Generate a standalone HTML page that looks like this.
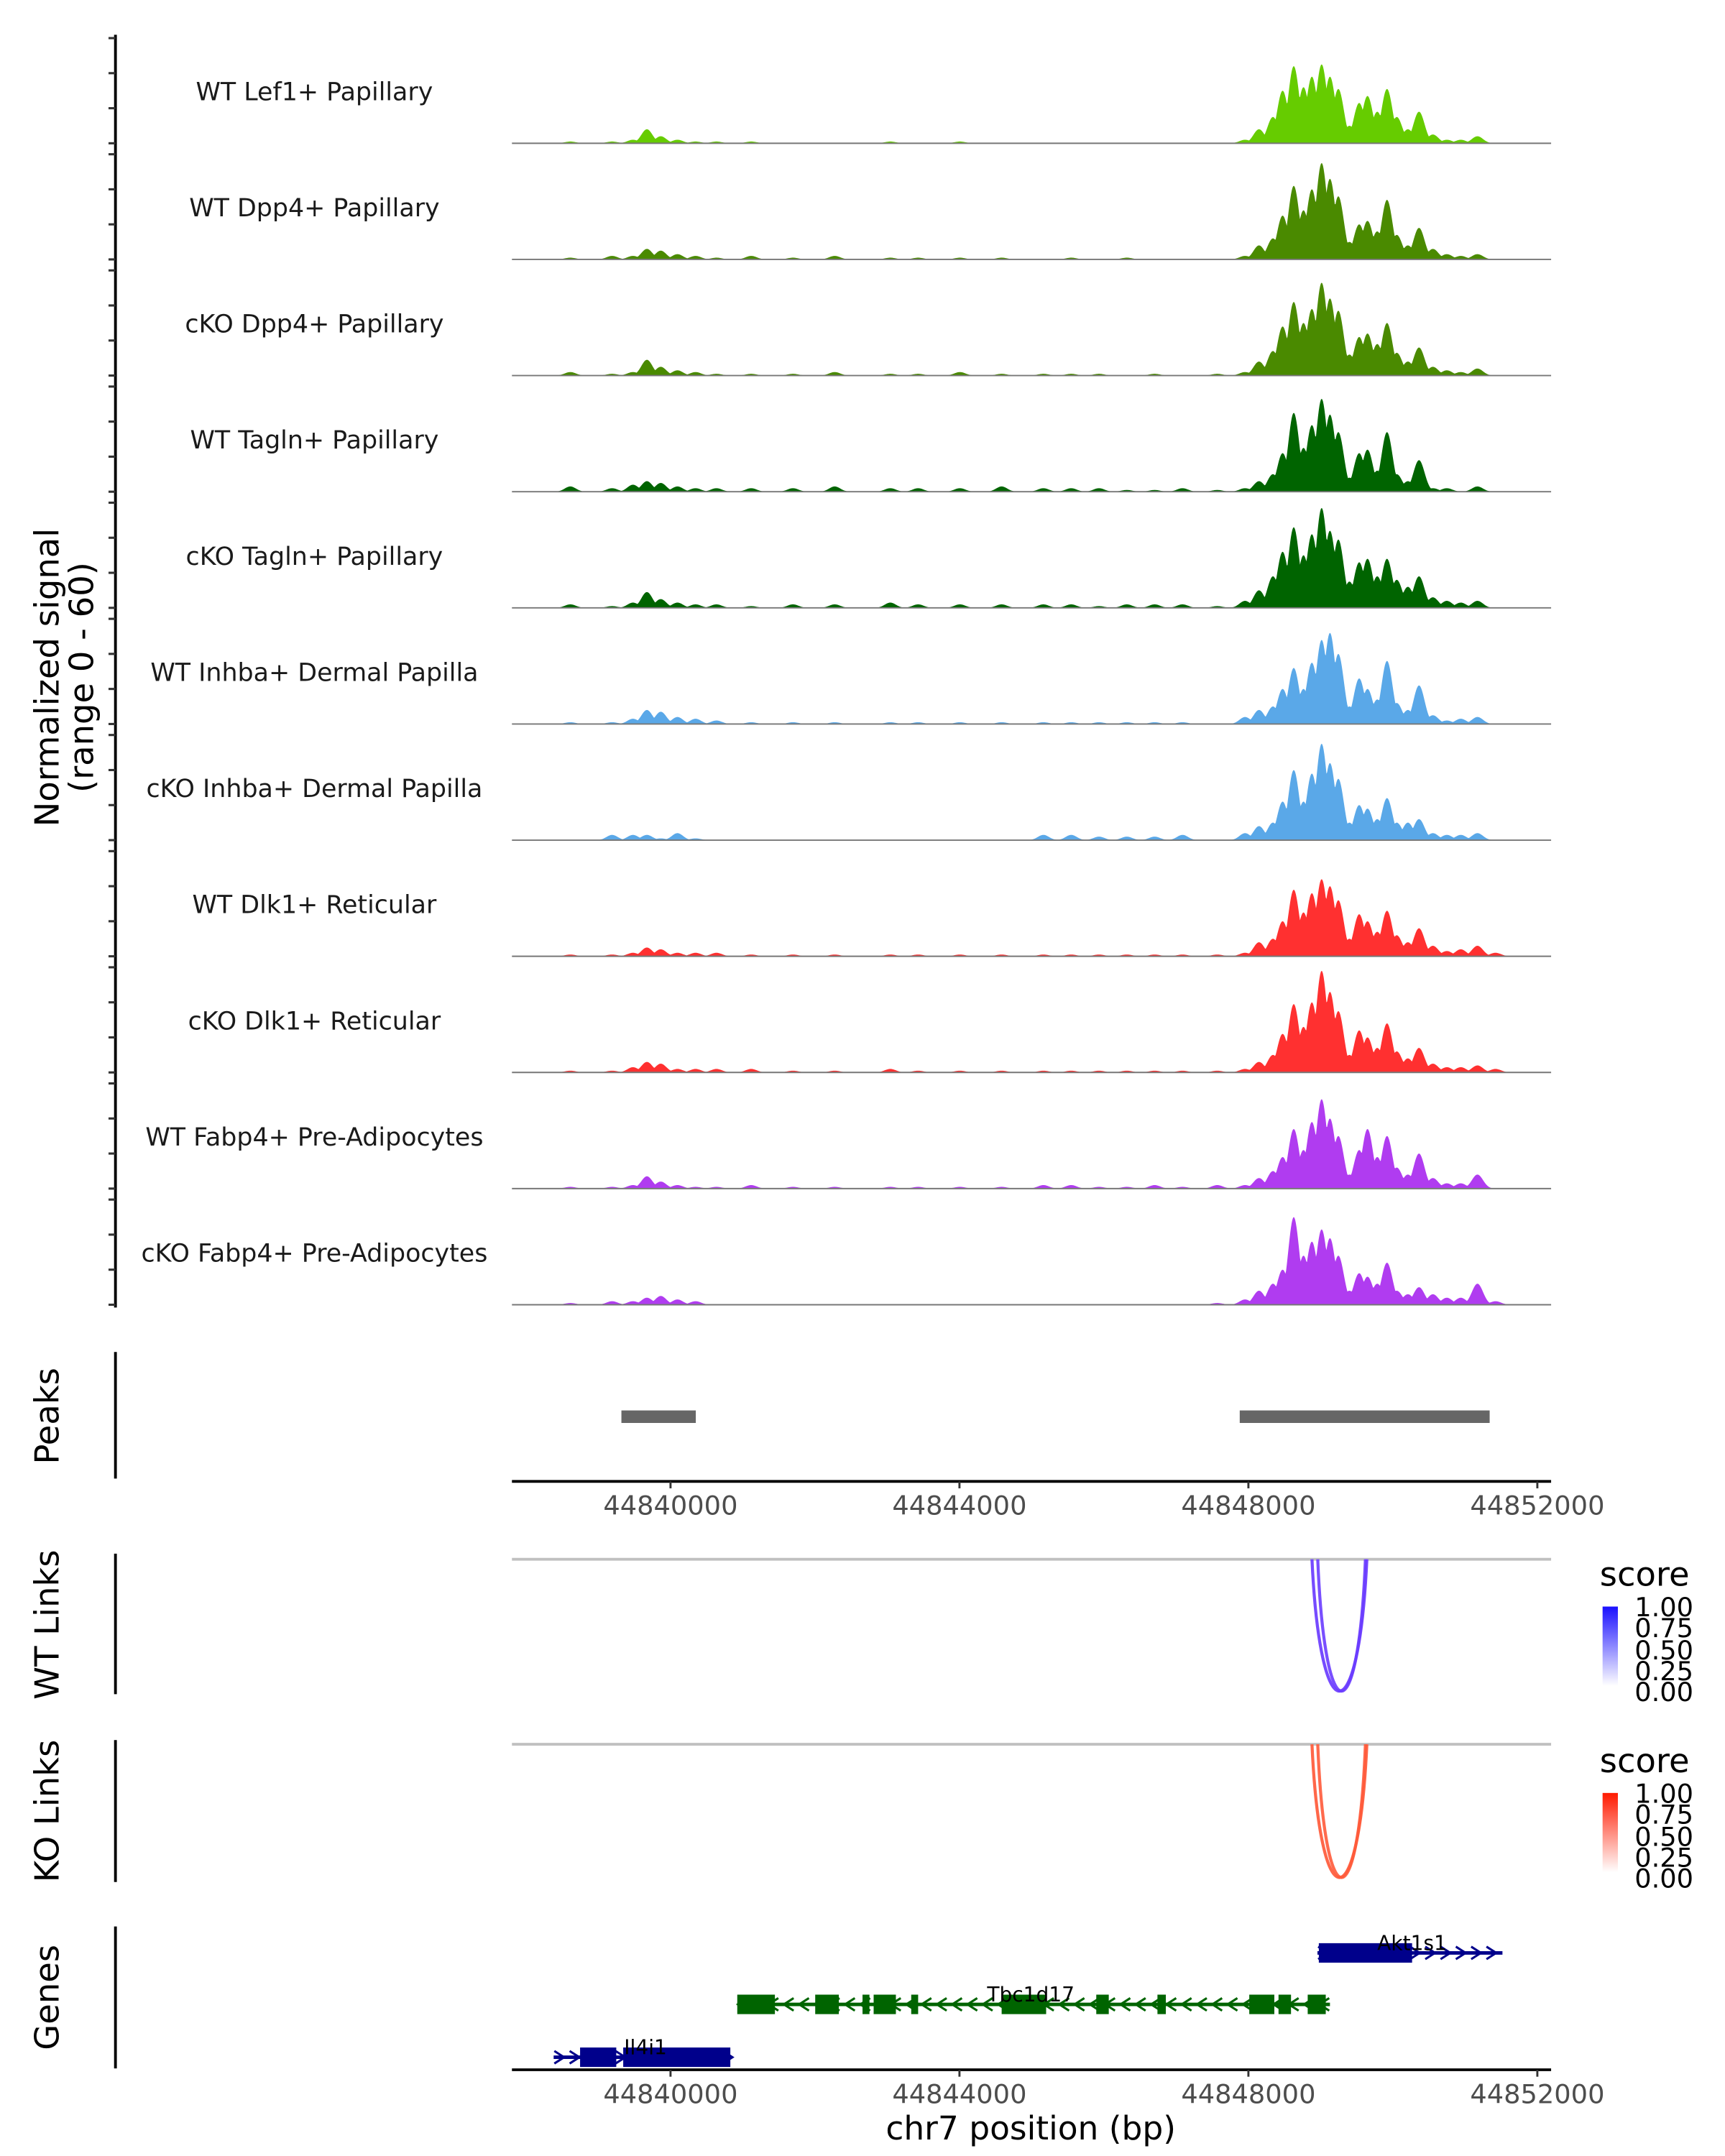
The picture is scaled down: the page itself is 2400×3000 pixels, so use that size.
<!DOCTYPE html>
<html><head><meta charset="utf-8">
<style>
html,body{margin:0;padding:0;background:#fff;}
svg{display:block;font-family:"DejaVu Sans","Liberation Sans",sans-serif;}
</style></head>
<body>
<svg id="fig" width="2400" height="3000" viewBox="0 0 1240 1550" xmlns="http://www.w3.org/2000/svg">
<defs>
<linearGradient id="gBlue" x1="0" y1="1" x2="0" y2="0"><stop offset="0" stop-color="#ffffff"/><stop offset="1" stop-color="#1a10ff"/></linearGradient>
<linearGradient id="gRed" x1="0" y1="1" x2="0" y2="0"><stop offset="0" stop-color="#ffffff"/><stop offset="1" stop-color="#ff1a00"/></linearGradient>
</defs>
<g id="tracks"></g>
<text transform="translate(42,487) rotate(-90)" text-anchor="middle" font-size="24" fill="#000">Normalized signal</text>
<text transform="translate(67,487) rotate(-90)" text-anchor="middle" font-size="24" fill="#000">(range 0 - 60)</text>

<g>
<line x1="83" y1="972" x2="83" y2="1063" stroke="#000" stroke-width="2"/>
<text transform="translate(42,1018) rotate(-90)" text-anchor="middle" font-size="24">Peaks</text>
<g id="peaks"></g>
<line x1="368" y1="1065" x2="1115" y2="1065" stroke="#000" stroke-width="2"/>
<g id="ticks1"></g>
</g>

<g>
<line x1="83" y1="1117" x2="83" y2="1218" stroke="#000" stroke-width="2"/>
<text transform="translate(42,1168) rotate(-90)" text-anchor="middle" font-size="24">WT Links</text>
<line x1="368" y1="1121" x2="1115" y2="1121" stroke="#c0c0c0" stroke-width="2"/>
<g id="wtlinks"></g>
<text x="1150" y="1140" font-size="24">score</text>
<rect x="1152" y="1155" width="11" height="57" fill="url(#gBlue)"/>
<g font-size="19">
<text x="1175" y="1162">1.00</text><text x="1175" y="1177">0.75</text><text x="1175" y="1193">0.50</text><text x="1175" y="1208">0.25</text><text x="1175" y="1223">0.00</text></g>
</g>

<g>
<line x1="83" y1="1251" x2="83" y2="1353" stroke="#000" stroke-width="2"/>
<text transform="translate(42,1302) rotate(-90)" text-anchor="middle" font-size="24">KO Links</text>
<line x1="368" y1="1254" x2="1115" y2="1254" stroke="#c0c0c0" stroke-width="2"/>
<g id="kolinks"></g>
<text x="1150" y="1274" font-size="24">score</text>
<rect x="1152" y="1289" width="11" height="57" fill="url(#gRed)"/>
<g font-size="19">
<text x="1175" y="1296">1.00</text><text x="1175" y="1311">0.75</text><text x="1175" y="1327">0.50</text><text x="1175" y="1342">0.25</text><text x="1175" y="1357">0.00</text></g>
</g>

<g>
<line x1="83" y1="1385" x2="83" y2="1487" stroke="#000" stroke-width="2"/>
<text transform="translate(42,1436) rotate(-90)" text-anchor="middle" font-size="24">Genes</text>
<g id="genes"></g>
<line x1="368" y1="1488" x2="1115" y2="1488" stroke="#000" stroke-width="2"/>
<g id="ticks2"></g>
<text x="741" y="1538" text-anchor="middle" font-size="23.5">chr7 position (bp)</text>
</g>
</svg>
<script>
const trackNames = ["WT Lef1+ Papillary","WT Dpp4+ Papillary","cKO Dpp4+ Papillary","WT Tagln+ Papillary","cKO Tagln+ Papillary","WT Inhba+ Dermal Papilla","cKO Inhba+ Dermal Papilla","WT Dlk1+ Reticular","cKO Dlk1+ Reticular","WT Fabp4+ Pre-Adipocytes","cKO Fabp4+ Pre-Adipocytes"];
const trackColors = ["#66cc00","#4a8a00","#4a8a00","#006400","#006400","#5aa8e8","#5aa8e8","#ff3030","#ff3030","#b03cf0","#b03cf0"];
const bgPos = [44838613,44839191,44839480,44839673,44839865,44840096,44840347,44840636,44841117,44841695,44842273,44843043,44843428,44844006,44844584,44845162,44845547,44845932,44846317,44846702,44847088,44847569];
const mainPos = [44847954,44848147,44848340,44848474,44848628,44848763,44848879,44849014,44849129,44849245,44849399,44849534,44849649,44849784,44849919,44850054,44850208,44850362,44850554,44850747,44850940,44851171,44851421];
const bgVals = [
[1,1,2,8,4,2,1,1,1,0,0,1,0,1,0,0,0,0,0,0,0,0],
[1,2,2,6,5,3,2,1,2,1,2,1,1,1,1,0,1,0,1,0,0,0],
[2,1,2,9,5,3,2,1,1,1,2,1,1,2,1,1,1,1,0,1,0,1],
[3,2,4,6,5,3,2,2,2,2,3,2,2,2,3,2,2,2,1,1,2,1],
[2,1,3,9,5,3,2,2,1,2,2,3,2,2,2,2,2,1,2,2,2,1],
[1,1,3,8,7,4,3,2,1,1,1,1,1,1,1,1,1,1,1,1,1,0],
[0,3,3,3,1,4,1,0,0,0,0,0,0,0,0,3,3,2,2,2,3,0],
[1,1,2,5,4,2,2,2,1,1,1,1,1,1,1,1,1,1,1,1,1,1],
[1,1,3,6,5,2,2,2,2,1,1,2,1,1,1,1,1,1,1,1,1,1],
[1,1,2,7,4,2,1,1,2,1,1,1,1,1,1,2,2,1,1,2,1,2],
[1,2,2,4,5,3,2,0,0,0,0,0,0,0,0,0,0,0,0,0,0,1]];
const mainVals = [
[2,8,15,30,44,32,38,45,38,31,10,23,27,18,31,15,8,18,5,2,2,4,0],
[2,8,12,25,42,28,40,55,46,36,10,20,22,16,34,14,8,18,6,3,2,3,0],
[2,8,14,28,42,30,38,53,44,37,12,22,24,18,30,13,8,16,5,3,2,4,0],
[2,6,10,22,45,25,38,53,44,34,8,22,24,12,34,10,6,18,2,2,0,3,0],
[4,10,18,32,46,30,42,57,44,39,15,26,28,18,28,16,12,18,6,4,3,4,0],
[4,8,10,20,32,20,35,48,52,40,10,26,20,14,36,12,8,22,5,2,3,4,0],
[4,8,10,22,40,22,38,55,44,35,10,20,18,12,24,10,10,12,4,3,3,4,0],
[2,8,10,20,38,25,36,44,40,32,10,24,20,14,26,12,8,16,6,3,4,6,2],
[2,6,10,22,39,26,40,58,46,35,10,24,20,14,28,12,8,14,5,3,3,4,2],
[2,6,10,18,34,22,38,51,40,30,8,22,34,18,30,12,8,20,6,3,3,8,0],
[3,8,12,20,50,28,36,43,38,28,8,18,16,12,24,8,6,10,6,4,4,12,2]];
const peakStarts = [44839320,44847880];
const peakEnds = [44840350,44851340];
const tickVals = [44840000,44844000,44848000,44852000];
const tickLabels = ["44840000","44844000","44848000","44852000"];
const wtLinkStart = [44848880,44848960];
const wtLinkEnd = [44849640,44849620];
const wtLinkScore = [0.8,0.75];
const koLinkStart = [44848880,44848960];
const koLinkEnd = [44849640,44849620];
const koLinkScore = [0.8,0.75];
const geneNames = ["Akt1s1","Tbc1d17","Il4i1"];
const geneStart = [44848956,44840924,44838382];
const geneEnd = [44851517,44849129,44840828];
const geneStrand = [1,-1,1];
const geneExons = [
[[44848975,44850266]],
[[44840924,44841445],[44842003,44842330],[44842658,44842754],[44842812,44843120],[44843332,44843428],[44844584,44845200],[44845894,44846067],[44846741,44846857],[44848012,44848359],[44848417,44848590],[44848821,44849071]],
[[44838748,44839249],[44839345,44840828]]];

const NS="http://www.w3.org/2000/svg";
const X0=368,X1=1115;
function xs(bp){return 482+(bp-44840000)*207.7/4000;}
const yUnit=75.6/60;
function mk(tag,attrs,parent){const e=document.createElementNS(NS,tag);for(const k in attrs)e.setAttribute(k,attrs[k]);parent.appendChild(e);return e;}

const tracksG=document.getElementById('tracks');
mk('line',{x1:83,y1:25,x2:83,y2:940,stroke:'#000','stroke-width':2},tracksG);
for(let t=0;t<trackNames.length;t++){
  const base=103+t*83.5;
  const g=mk('g',{},tracksG);
  
  
  for(let k=0;k<4;k++){
    const y=base-k*25.2;
    const tk=mk('line',{x1:78,y1:y,x2:83,y2:y,stroke:'#333','stroke-width':1.6},g);
    
    
  }
  const lab=mk('text',{x:226,y:base-31,'text-anchor':'middle','font-size':18,fill:'#1a1a1a'},g);
  lab.textContent=trackNames[t];
  
  
  const pts=[];
  const bx=bgPos.map(xs), mx=mainPos.map(xs);
  for(let x=X0;x<=X1;x+=0.5){
    let v=0;
    for(let i=0;i<bx.length;i++){const d=(x-bx[i])/4;if(Math.abs(d)<4)v=Math.max(v,bgVals[t][i]*Math.exp(-d*d/2));}
    for(let i=0;i<mx.length;i++){const d=(x-mx[i])/4;if(Math.abs(d)<4)v=Math.max(v,mainVals[t][i]*Math.exp(-d*d/2));}
    pts.push([x,base-v*yUnit]);
  }
  let d='M'+X0+','+base+' '+pts.map(p=>'L'+p[0].toFixed(1)+','+p[1].toFixed(2)).join(' ')+' L'+X1+','+base+' Z';
  const area=mk('path',{d:d,fill:trackColors[t]},g);
  
  
  mk('line',{x1:X0,y1:base,x2:X1,y2:base,stroke:'#777','stroke-width':1},g);
}

const pk=document.getElementById('peaks');
for(let i=0;i<peakStarts.length;i++){
  const r=mk('rect',{x:xs(peakStarts[i]),y:1014,width:xs(peakEnds[i])-xs(peakStarts[i]),height:9,fill:'#666'},pk);
  
  
}
function ticks(id,y){
  const g=document.getElementById(id);
  for(let i=0;i<tickVals.length;i++){
    const x=xs(tickVals[i]);
    mk('line',{x1:x,y1:y,x2:x,y2:y+5,stroke:'#333','stroke-width':1.5},g);
    const t=mk('text',{x:x,y:y+24,'text-anchor':'middle','font-size':19,fill:'#4d4d4d'},g);
    t.textContent=tickLabels[i];
    
    
  }
}
ticks('ticks1',1065);ticks('ticks2',1488);

function links(id,st,en,sc,top,depth,col){
  const g=document.getElementById(id);
  for(let i=0;i<st.length;i++){
    const a=xs(st[i]),b=xs(en[i]);
    const p=mk('path',{d:`M${a},${top} C${a+ (b-a)*0.15},${top+depth*1.33} ${b-(b-a)*0.15},${top+depth*1.33} ${b},${top}`,fill:'none',stroke:col,'stroke-width':2.2,opacity:0.6+0.4*sc[i]},g);
    
    
  }
}
links('wtlinks',wtLinkStart,wtLinkEnd,wtLinkScore,1121,95,'#6a3cff');
links('kolinks',koLinkStart,koLinkEnd,koLinkScore,1254,96,'#ff5a3a');

const gg=document.getElementById('genes');
const geneY=[1404,1441,1479];
const geneCol=['#00008b','#006400','#00008b'];
const labelX=[1015,741,464];
for(let i=0;i<geneNames.length;i++){
  const g=mk('g',{},gg);
  
  
  const y=geneY[i],a=xs(geneStart[i]),b=xs(geneEnd[i]),c=geneCol[i];
  mk('line',{x1:a,y1:y,x2:b,y2:y,stroke:c,'stroke-width':2.5},g);
  for(let x=a+4;x<b-2;x+=11){
    const s=geneStrand[i]*3.5;
    mk('path',{d:`M${x-s},${y-4.5} L${x+s},${y} L${x-s},${y+4.5}`,fill:'none',stroke:c,'stroke-width':1.6},g);
  }
  for(const ex of geneExons[i]){
    const r=mk('rect',{x:xs(ex[0]),y:y-7,width:Math.max(2,xs(ex[1])-xs(ex[0])),height:14,fill:c},g);
    
    
  }
  const t=mk('text',{x:labelX[i],y:y-2,'text-anchor':'middle','font-size':14.5,fill:'#000'},g);
  t.textContent=geneNames[i];
  
  
}
</script>
</body></html>
